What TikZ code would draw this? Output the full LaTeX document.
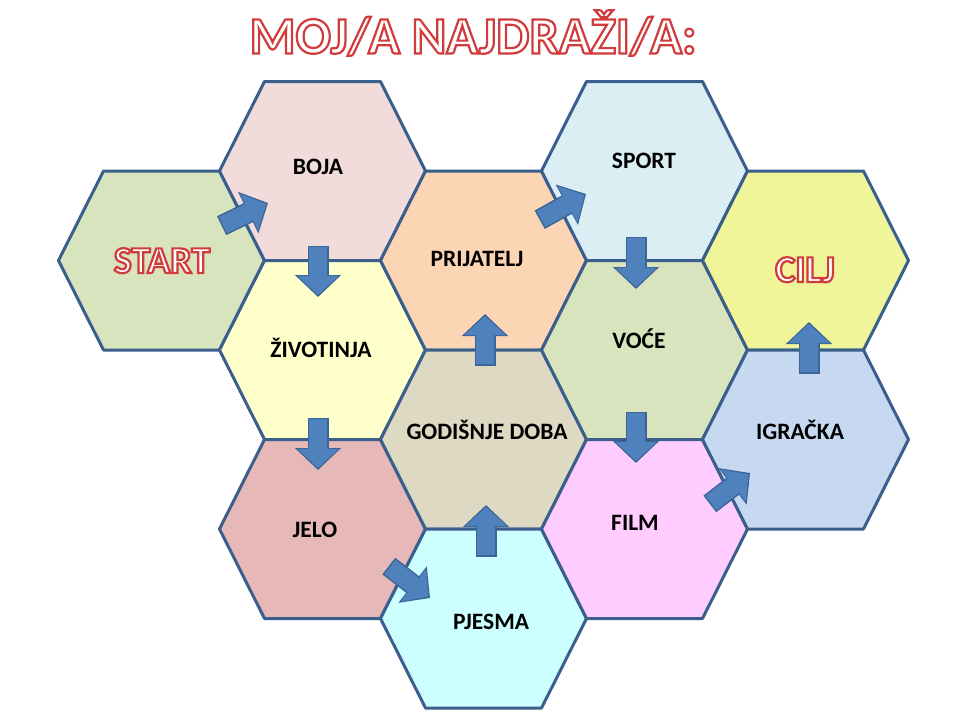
\documentclass[tikz,border=0pt]{standalone}
\usepackage{fontspec}
\setmainfont{Carlito}
\usepackage[usenames,dvipsnames]{xcolor}
\usepackage{tikz}
\usetikzlibrary{calc,arrows.meta}

\definecolor{celledge}{HTML}{3A5F8C}
\definecolor{arrowfill}{HTML}{4F81BD}
\definecolor{arrowline}{HTML}{3B6497}
\definecolor{startfill}{HTML}{D7E4BD}
\definecolor{bojafill}{HTML}{F2DCDB}
\definecolor{zivfill}{HTML}{FFFFCC}
\definecolor{jelofill}{HTML}{E6B9B8}
\definecolor{prijfill}{HTML}{FCD5B5}
\definecolor{godfill}{HTML}{DDD9C3}
\definecolor{pjesmafill}{HTML}{CCFFFF}
\definecolor{sportfill}{HTML}{DBEEF4}
\definecolor{vocefill}{HTML}{D7E4BD}
\definecolor{filmfill}{HTML}{FFCCFF}
\definecolor{ciljfill}{HTML}{F0F59A}
\definecolor{igrfill}{HTML}{C6D9F1}

\newcommand{\lblfont}{\fontsize{23.5}{28}\selectfont\bfseries}
\newcommand{\wordfont}{\fontsize{38}{44}\selectfont\bfseries}
\newcommand{\titlefont}{\fontsize{52.5}{60}\selectfont\bfseries}
% white letters with a red outline (fill, then stroke)
\newcommand{\redword}[1]{\textcolor{white}{\special{pdf:literal direct 2 Tr 2.2 w 0.82 0.23 0.23 RG}#1\special{pdf:literal direct 0 Tr}}}

% one cell of the honeycomb
\newcommand{\hexcell}[2]{%
	\draw[cell, fill=#2] (#1) +(-103,0) -- +(-58,-89.5) -- +(58,-89.5) -- +(103,0) -- +(58,89.5) -- +(-58,89.5) -- cycle;}

\tikzset{
	cell/.style={draw=celledge, line width=3pt, line join=round},
	lbl/.style={font=\lblfont, text height=15pt, text depth=0pt, inner sep=0pt},
	bigword/.style={font=\wordfont, text height=24pt, text depth=0pt, inner sep=0pt},
	blockarrow/.style={draw=arrowfill, line width=18pt, shorten >=2pt,
		-{Triangle[length=19pt,width=40pt]},
		preaction={draw=arrowline, line width=21pt, shorten >=0pt, shorten <=-1.5pt,
			-{Triangle[length=22pt,width=45pt]}}},
}

\begin{document}
\begin{tikzpicture}[x=1pt, y=-1pt]
		\path[fill=white] (0,0) rectangle (960,720);

		\coordinate (start)   at (161.5,260.5);
		\coordinate (boja)    at (322.5,171);
		\coordinate (ziv)     at (322.5,350);
		\coordinate (jelo)    at (322.5,529);
		\coordinate (prij)    at (483.5,260.5);
		\coordinate (god)     at (483.5,439.5);
		\coordinate (pjesma)  at (483.5,618.5);
		\coordinate (sport)   at (644.5,171);
		\coordinate (voce)    at (644.5,350);
		\coordinate (film)    at (644.5,529);
		\coordinate (cilj)    at (805.5,260.5);
		\coordinate (igracka) at (805.5,439.5);

		\hexcell{start}{startfill}
		\hexcell{boja}{bojafill}
		\hexcell{ziv}{zivfill}
		\hexcell{jelo}{jelofill}
		\hexcell{prij}{prijfill}
		\hexcell{god}{godfill}
		\hexcell{pjesma}{pjesmafill}
		\hexcell{sport}{sportfill}
		\hexcell{voce}{vocefill}
		\hexcell{film}{filmfill}
		\hexcell{cilj}{ciljfill}
		\hexcell{igracka}{igrfill}

		\draw (473,37) node[font=\titlefont, text height=33pt, text depth=0pt, inner sep=0pt] (title) {\redword{MOJ/A NAJDRAŽI/A:}};

		\draw (162,261) node[bigword] (tstart)   {\redword{START}};
		\draw (805,270) node[bigword] (tcilj)    {\redword{CILJ}};
		\draw (318,167) node[lbl] (tboja)    {BOJA};
		\draw (321,350) node[lbl] (tziv)     {ŽIVOTINJA};
		\draw (315,530) node[lbl] (tjelo)    {JELO};
		\draw (477,259) node[lbl] (tprij)    {PRIJATELJ};
		\draw (487,432) node[lbl] (tgod)     {GODIŠNJE DOBA};
		\draw (491,622) node[lbl] (tpjesma)  {PJESMA};
		\draw (644,161) node[lbl] (tsport)   {SPORT};
		\draw (639,341) node[lbl] (tvoce)    {VOĆE};
		\draw (635,523) node[lbl] (tfilm)    {FILM};
		\draw (800,432) node[lbl] (tigracka) {IGRAČKA};

		\draw[blockarrow] ($(start)+(61.5,-35.5)$) -- ($(start)+(106.5,-57.5)$);
		\draw[blockarrow] ($(boja)+(-4.5,76)$) -- ($(boja)+(-4.5,126)$);
		\draw[blockarrow] ($(ziv)+(-4.5,69)$) -- ($(ziv)+(-4.5,120)$);
		\draw[blockarrow] ($(jelo)+(67.5,38)$) -- ($(jelo)+(107.5,69)$);
		\draw[blockarrow] ($(pjesma)+(2.5,-63.5)$) -- ($(pjesma)+(2.5,-113.5)$);
		\draw[blockarrow] ($(god)+(1.5,-75.5)$) -- ($(god)+(1.5,-125.5)$);
		\draw[blockarrow] ($(prij)+(57.5,-41.5)$) -- ($(prij)+(102.5,-66.5)$);
		\draw[blockarrow] ($(sport)+(-8.5,67)$) -- ($(sport)+(-8.5,118)$);
		\draw[blockarrow] ($(voce)+(-8.5,63)$) -- ($(voce)+(-8.5,113)$);
		\draw[blockarrow] ($(film)+(66.5,-26)$) -- ($(film)+(105.5,-56)$);
		\draw[blockarrow] ($(igracka)+(3.5,-67.5)$) -- ($(igracka)+(3.5,-117.5)$);

	\end{tikzpicture}
\end{document}
